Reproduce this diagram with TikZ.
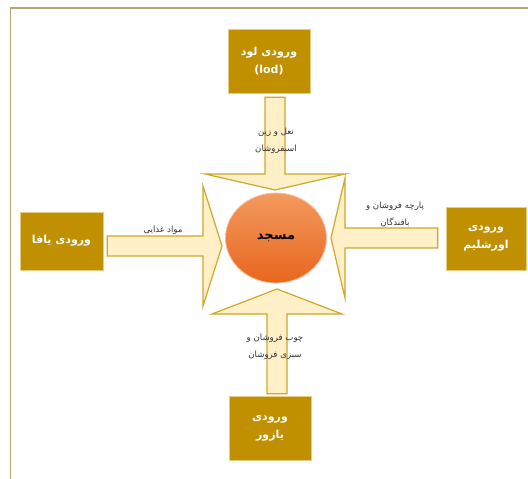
\documentclass[tikz,border=0pt]{standalone}
\usepackage{fontspec}
\setmainfont{DejaVu Sans}
\newfontfamily\fa[Script=Arabic]{DejaVu Sans}
\usepackage{xcolor}
\usetikzlibrary{calc,shapes.geometric}
\TeXXeTstate=1
\definecolor{gate}{HTML}{C09000}
\definecolor{gateline}{HTML}{E6CC80}
\definecolor{flow}{HTML}{FFF0C8}
\definecolor{flowline}{HTML}{CFA72A}
\definecolor{frameline}{HTML}{B8A572}
\definecolor{domelight}{HTML}{F39A5E}
\definecolor{domedark}{HTML}{E8661E}
\newcommand\flowarrow[4]{%
  \coordinate (fb) at ($(#2)!#3pt!(#1)$);
  \draw[flowline,fill=flow,line width=1.2pt,line join=miter]
    ($(#1)!10pt!90:(#2)$) -- ($(fb)!10pt!90:(#2)$) -- ($(fb)!#4pt!90:(#2)$) -- (#2)
    -- ($(fb)!#4pt!-90:(#2)$) -- ($(fb)!10pt!-90:(#2)$) -- ($(#1)!10pt!-90:(#2)$) -- cycle;}

\begin{document}
\begin{tikzpicture}[x=1pt,y=-1pt,
  gatebox/.style={draw=gateline,fill=gate,text=white,align=center,inner sep=0pt,
    font=\fa\bfseries\fontsize{11}{18}\selectfont},
  lbl/.style={align=center,text=black!80,font=\fa\fontsize{8.6}{17}\selectfont}]
\useasboundingbox (0,0) rectangle (528,479);
\draw[frameline,line width=1.5pt] (10.5,479) -- (10.5,8) -- (528,8);

\node[gatebox,minimum width=82pt,minimum height=64pt] (lod) at (269,61) {\beginR ورودی لود\endR\\(lod)};
\node[gatebox,minimum width=80pt,minimum height=63pt] (urshalim) at (486,238.5) {\beginR ورودی\endR\\\beginR اورشلیم\endR};
\node[gatebox,minimum width=83pt,minimum height=58pt] (yafa) at (61.5,241) {\beginR ورودی یافا\endR};
\node[gatebox,minimum width=82pt,minimum height=64pt] (yazur) at (270,428) {\beginR ورودی\endR\\\beginR یازور\endR};

\coordinate (t1) at (275,190);
\coordinate (t2) at (331,238);
\coordinate (t3) at (222,246);
\coordinate (t4) at (277,289);
\coordinate (s1) at ($(lod.south -| t1)+(0,4)$);
\coordinate (s2) at ($(urshalim.west |- t2)+(-8,0)$);
\coordinate (s3) at ($(yafa.east |- t3)+(4,0)$);
\coordinate (s4) at ($(yazur.north -| t4)+(0,-2)$);
\flowarrow{s1}{t1}{16}{70}
\flowarrow{s2}{t2}{14}{60}
\flowarrow{s3}{t3}{19}{60}
\flowarrow{s4}{t4}{25}{65}

\node[ellipse,minimum width=101pt,minimum height=90pt,draw=domelight!60!white,line width=0.8pt,
  top color=domelight,bottom color=domedark,
  font=\fa\bfseries\fontsize{13}{15}\selectfont] (masjid) at (276,238) {\beginR مسجد\endR};

\node[lbl] (naal) at (276,141) {\beginR نعل و زین\endR\\\beginR اسبفروشان\endR};
\node[lbl] (parche) at (395,214) {\beginR پارچه فروشان و\endR\\\beginR بافندگان\endR};
\node[lbl] (ghaza) at (163,230) {\beginR مواد غذایی\endR};
\node[lbl] (chub) at (275,347) {\beginR چوب فروشان و\endR\\\beginR سبزی فروشان\endR};
\end{tikzpicture}
\end{document}
